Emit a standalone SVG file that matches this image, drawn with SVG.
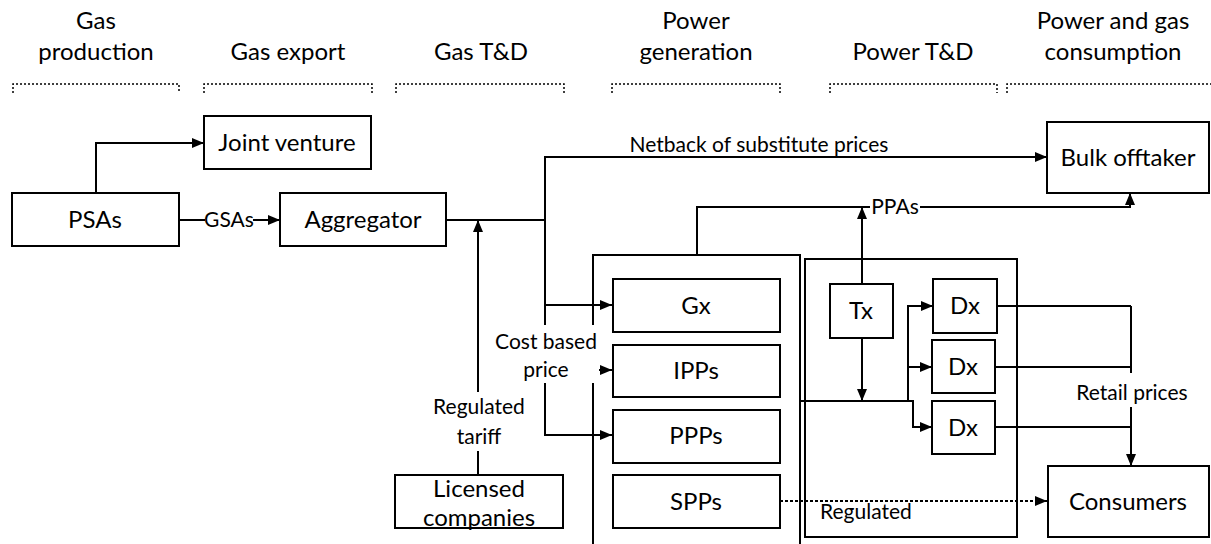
<svg xmlns="http://www.w3.org/2000/svg" width="1211" height="544" viewBox="0 0 1211 544">
<style>
text{font-family:Lato,"Liberation Sans",sans-serif;fill:#000;text-anchor:middle}
.h{font-size:24px}
.n{font-size:24px}
.l{font-size:21px}
.box{fill:#fff;stroke:#000;stroke-width:2}
.c{fill:none;stroke:#000;stroke-width:2}
.d{fill:none;stroke:#000;stroke-width:1.5;stroke-dasharray:2 2}
.dot{fill:none;stroke:#000;stroke-width:2;stroke-dasharray:3 2}
.bg{fill:#fff;stroke:none}
</style>
<defs>
<marker id="arr" markerWidth="12" markerHeight="10" refX="12" refY="5" orient="auto" markerUnits="userSpaceOnUse"><path d="M0,0 L12,5 L0,10 z" fill="#000"/></marker>
</defs>
<rect width="1211" height="544" fill="#fff"/>
<g id="headers">
<text class="h" x="96" y="29">Gas</text><text class="h" x="96" y="60">production</text>
<text class="h" x="288" y="60">Gas export</text>
<text class="h" x="481" y="60">Gas T&amp;D</text>
<text class="h" x="696" y="29">Power</text><text class="h" x="696" y="60">generation</text>
<text class="h" x="913" y="60">Power T&amp;D</text>
<text class="h" x="1113" y="29">Power and gas</text><text class="h" x="1113" y="60">consumption</text>
<path class="d" d="M13,93V84H179V93M204,93V84H372V93M396,93V84H564V93M612,93V84H780V93M830,93V84H997V93M1007,93V84H1215"/>
</g>
<g id="group-power-generation"><path class="box" d="M593,560V255H800V560" fill="none"/></g>
<g id="group-power-td"><rect class="box" x="805" y="259" width="212" height="278"/></g>
<g id="connectors">
<path class="c" d="M96,193V143H204" marker-end="url(#arr)"/>
<path class="c" d="M179,220H280" marker-end="url(#arr)"/>
<path class="c" d="M446,220H545V157H1047" marker-end="url(#arr)"/>
<path class="c" d="M545,220V435H612" marker-end="url(#arr)"/>
<path class="c" d="M545,305H612" marker-end="url(#arr)"/>
<path class="c" d="M545,370H612" marker-end="url(#arr)"/>
<path class="c" d="M478,475V220" marker-end="url(#arr)"/>
<path class="c" d="M697,255V207H1130V193" marker-end="url(#arr)"/>
<path class="c" d="M862,284V207" marker-end="url(#arr)"/>
<path class="c" d="M862,338V401" marker-end="url(#arr)"/>
<path class="c" d="M800,401H908"/>
<path class="c" d="M908,401V306H933" marker-end="url(#arr)"/>
<path class="c" d="M908,367H932" marker-end="url(#arr)"/>
<path class="c" d="M908,401H913V427H932" marker-end="url(#arr)"/>
<path class="c" d="M997,306H1131M995,367H1131M995,427H1131"/>
<path class="c" d="M1131,306V466" marker-end="url(#arr)"/>
<path class="dot" d="M780,501H1047" marker-end="url(#arr)"/>
<rect class="bg" x="205" y="208" width="48" height="24"/>
<text class="l" x="229" y="227">GSAs</text>
<rect class="bg" x="625" y="130" width="269" height="26"/>
<text class="l" x="759" y="152">Netback of substitute prices</text>
<rect class="bg" x="870" y="196" width="50" height="22"/>
<text class="l" x="895" y="214">PPAs</text>
<rect class="bg" x="493" y="325" width="106" height="58"/>
<text class="l" x="546" y="349">Cost based</text><text class="l" x="546" y="377">price</text>
<rect class="bg" x="430" y="392" width="98" height="59"/>
<text class="l" x="479" y="414">Regulated</text><text class="l" x="479" y="444">tariff</text>
<rect class="bg" x="1070" y="373" width="124" height="34"/>
<text class="l" x="1132" y="400">Retail prices</text>
<text class="l" x="820" y="519" style="text-anchor:start">Regulated</text>
</g>
<g id="joint-venture"><rect class="box" x="204" y="116" width="167" height="53"/><text class="n" x="287" y="151">Joint venture</text></g>
<g id="psas"><rect class="box" x="12" y="193" width="167" height="53"/><text class="n" x="95" y="228">PSAs</text></g>
<g id="aggregator"><rect class="box" x="280" y="193" width="166" height="53"/><text class="n" x="363" y="228">Aggregator</text></g>
<g id="bulk-offtaker"><rect class="box" x="1047" y="122" width="162" height="71"/><text class="n" x="1128" y="166">Bulk offtaker</text></g>
<g id="consumers"><rect class="box" x="1048" y="466" width="161" height="71"/><text class="n" x="1128" y="510">Consumers</text></g>
<g id="licensed-companies"><rect class="box" x="395" y="475" width="168" height="53"/><text class="n" x="479" y="497">Licensed</text><text class="n" x="479" y="526">companies</text></g>
<g id="gx"><rect class="box" x="613" y="279" width="167" height="53"/><text class="n" x="696" y="314">Gx</text></g>
<g id="ipps"><rect class="box" x="613" y="345" width="167" height="52"/><text class="n" x="696" y="379">IPPs</text></g>
<g id="ppps"><rect class="box" x="613" y="410" width="167" height="53"/><text class="n" x="696" y="444">PPPs</text></g>
<g id="spps"><rect class="box" x="613" y="475" width="167" height="53"/><text class="n" x="696" y="510">SPPs</text></g>
<g id="tx"><rect class="box" x="830" y="284" width="63" height="54"/><text class="n" x="861" y="319">Tx</text></g>
<g id="dx1"><rect class="box" x="933" y="279" width="64" height="54"/><text class="n" x="965" y="314">Dx</text></g>
<g id="dx2"><rect class="box" x="932" y="340" width="63" height="53"/><text class="n" x="963" y="375">Dx</text></g>
<g id="dx3"><rect class="box" x="932" y="401" width="63" height="53"/><text class="n" x="963" y="436">Dx</text></g>
</svg>
